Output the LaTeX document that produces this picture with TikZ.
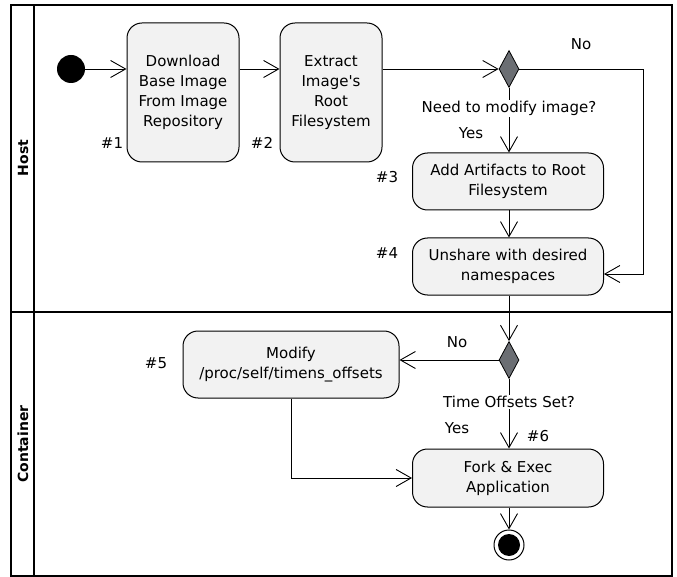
\documentclass[tikz,border=0pt]{standalone}
\usepackage{fontspec}
\setmainfont{DejaVu Sans}[Ligatures=TeXOff]
\usetikzlibrary{positioning,arrows.meta,shapes.geometric,calc}
\definecolor{actfill}{HTML}{F2F2F2}
\definecolor{decfill}{HTML}{6B6E73}
\begin{document}
\begin{tikzpicture}[x=1pt,y=-1pt]
\tikzset{act/.style={draw,rounded corners=15pt,fill=actfill,line width=1pt,align=center,inner sep=0pt,font=\fontsize{15}{20}\selectfont},
  dec/.style={draw,diamond,fill=decfill,line width=0.8pt,minimum width=20pt,minimum height=37pt,inner sep=0pt},
  lbl/.style={font=\fontsize{15}{20}\selectfont,inner sep=1pt},
  lane/.style={line width=2pt},
  flow/.style={line width=0.9pt,-{Straight Barb[length=15pt,width=17pt]}}}
\useasboundingbox (0,0) rectangle (677,577);
% swimlanes
\draw[lane] (11,5) rectangle (672,576);
\draw[lane] (34,5) -- (34,576);
\draw[lane] (11,312) -- (672,312);
\node[rotate=90,font=\fontsize{14}{16}\selectfont\bfseries] (host) at (23,158) {Host};
\node[rotate=90,font=\fontsize{14}{16}\selectfont\bfseries] (cont) at (23,444) {Container};
% activities
\node[circle,fill=black,minimum size=28pt,inner sep=0pt] (start) at (71,69) {};
\node[act,minimum width=112pt,minimum height=139pt] (download) at (183,92.5) {Download\\Base Image\\From Image\\Repository};
\node[act,minimum width=102pt,minimum height=139pt] (extract) at (331,92.5) {Extract\\Image's\\Root\\Filesystem};
\node[dec] (modq) at (509,69) {};
\node[act,minimum width=191pt,minimum height=57pt] (artifacts) at (508,181.5) {Add Artifacts to Root\\Filesystem};
\node[act,minimum width=191pt,minimum height=57pt] (unshare) at (508,266.5) {Unshare with desired\\namespaces};
\node[dec] (timeq) at (509,360) {};
\node[act,minimum width=216pt,minimum height=67pt] (offsets) at (291,364.5) {Modify\\/proc/self/timens\_offsets};
\node[act,minimum width=191pt,minimum height=58pt] (exec) at (508,478) {Fork \& Exec\\Application};
\node[circle,draw,line width=1pt,fill=white,minimum size=30pt,inner sep=0pt] (stop) at (509,545) {};
\node[circle,fill=black,minimum size=22pt,inner sep=0pt] at (stop) {};
% step numbers
\node[lbl] (n1) at (112,143) {\#1};
\node[lbl] (n2) at (262,143) {\#2};
\node[lbl] (n3) at (387,177) {\#3};
\node[lbl] (n4) at (387,253) {\#4};
\node[lbl] (n5) at (156,363) {\#5};
\node[lbl] (n6) at (538,436) {\#6};
\coordinate (nobend) at (643,274);
% flows
\draw[flow] (start) -- (download.west |- start);
\draw[flow] (download.east |- start) -- (extract.west |- start);
\draw[flow] (extract.east |- modq) -- (modq.west);
\draw[flow] (modq.south) -- node[lbl,pos=0.32,fill=white]{Need to modify image?} (modq.south |- artifacts.north);
\draw[flow] (modq.east) -| (nobend) -- (nobend -| unshare.east);
\draw[flow] (modq.south |- artifacts.south) -- (modq.south |- unshare.north);
\draw[flow] (modq.south |- unshare.south) -- (timeq.north);
\draw[flow] (timeq.west) -- (timeq.west -| offsets.east);
\draw[flow] (timeq.south) -- node[lbl,pos=0.33,fill=white]{Time Offsets Set?} (timeq.south |- exec.north);
\draw[flow] (offsets.south) |- (exec.west);
\draw[flow] (stop.north |- exec.south) -- (stop.north);
% guards
\node[lbl] (no1) at (581,44) {No};
\node[lbl] (yes1) at (471,133) {Yes};
\node[lbl] (no2) at (457,342) {No};
\node[lbl] (yes2) at (457,428) {Yes};
\end{tikzpicture}
\end{document}
